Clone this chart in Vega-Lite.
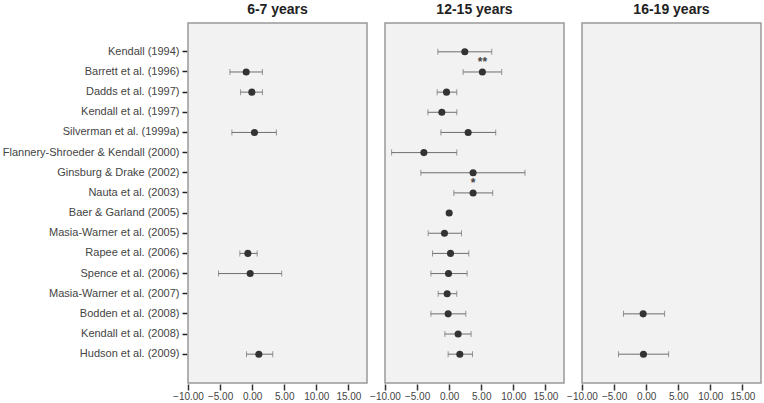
{
  "$schema": "https://vega.github.io/schema/vega-lite/v6.json",
  "background": "white",
  "padding": {"left": 2, "top": 3, "right": 4, "bottom": 2},
  "data": {"values": [
    {"study": "Barrett et al. (1996)", "age": "6-7 years", "est": -0.93, "lo": -3.47, "hi": 1.6, "sig": null},
    {"study": "Dadds et al. (1997)", "age": "6-7 years", "est": -0.05, "lo": -1.8, "hi": 1.6, "sig": null},
    {"study": "Silverman et al. (1999a)", "age": "6-7 years", "est": 0.36, "lo": -3.16, "hi": 3.78, "sig": null},
    {"study": "Rapee et al. (2006)", "age": "6-7 years", "est": -0.67, "lo": -1.92, "hi": 0.78, "sig": null},
    {"study": "Spence et al. (2006)", "age": "6-7 years", "est": -0.31, "lo": -5.24, "hi": 4.61, "sig": null},
    {"study": "Hudson et al. (2009)", "age": "6-7 years", "est": 1.04, "lo": -0.88, "hi": 3.21, "sig": null},
    {"study": "Kendall (1994)", "age": "12-15 years", "est": 2.44, "lo": -1.76, "hi": 6.64, "sig": null},
    {"study": "Barrett et al. (1996)", "age": "12-15 years", "est": 5.18, "lo": 2.18, "hi": 8.19, "sig": "**"},
    {"study": "Dadds et al. (1997)", "age": "12-15 years", "est": -0.41, "lo": -1.87, "hi": 1.19, "sig": null},
    {"study": "Kendall et al. (1997)", "age": "12-15 years", "est": -1.14, "lo": -3.32, "hi": 1.19, "sig": null},
    {"study": "Silverman et al. (1999a)", "age": "12-15 years", "est": 2.96, "lo": -1.29, "hi": 7.26, "sig": null},
    {"study": "Flannery-Shroeder & Kendall (2000)", "age": "12-15 years", "est": -3.94, "lo": -8.97, "hi": 1.19, "sig": null},
    {"study": "Ginsburg & Drake (2002)", "age": "12-15 years", "est": 3.73, "lo": -4.41, "hi": 11.82, "sig": null},
    {"study": "Nauta et al. (2003)", "age": "12-15 years", "est": 3.73, "lo": 0.73, "hi": 6.79, "sig": "*"},
    {"study": "Baer & Garland (2005)", "age": "12-15 years", "est": 0.0, "lo": null, "hi": null, "sig": null},
    {"study": "Masia-Warner et al. (2005)", "age": "12-15 years", "est": -0.73, "lo": -3.27, "hi": 1.92, "sig": null},
    {"study": "Rapee et al. (2006)", "age": "12-15 years", "est": 0.21, "lo": -2.59, "hi": 3.06, "sig": null},
    {"study": "Spence et al. (2006)", "age": "12-15 years", "est": -0.1, "lo": -2.85, "hi": 2.8, "sig": null},
    {"study": "Masia-Warner et al. (2007)", "age": "12-15 years", "est": -0.31, "lo": -1.71, "hi": 1.19, "sig": null},
    {"study": "Bodden et al. (2008)", "age": "12-15 years", "est": -0.16, "lo": -2.85, "hi": 2.59, "sig": null},
    {"study": "Kendall et al. (2008)", "age": "12-15 years", "est": 1.4, "lo": -0.67, "hi": 3.42, "sig": null},
    {"study": "Hudson et al. (2009)", "age": "12-15 years", "est": 1.66, "lo": -0.16, "hi": 3.63, "sig": null},
    {"study": "Bodden et al. (2008)", "age": "16-19 years", "est": -0.47, "lo": -3.53, "hi": 2.87, "sig": null},
    {"study": "Hudson et al. (2009)", "age": "16-19 years", "est": -0.42, "lo": -4.31, "hi": 3.5, "sig": null}
  ]},
  "facet": {
    "column": {
      "field": "age", "type": "nominal",
      "sort": ["6-7 years", "12-15 years", "16-19 years"],
      "header": {"title": null, "labelFont": "Liberation Sans", "labelFontSize": 14, "labelFontWeight": "bold", "labelColor": "#222", "labelPadding": 5}
    }
  },
  "spacing": 16,
  "spec": {
    "width": 179,
    "height": 360,
    "encoding": {
      "y": {
        "field": "study", "type": "nominal", "title": null, "sort": null,
        "scale": {"type": "band", "paddingInner": 0, "paddingOuter": 0.93, "domain": [
          "Kendall (1994)", "Barrett et al. (1996)", "Dadds et al. (1997)", "Kendall et al. (1997)",
          "Silverman et al. (1999a)", "Flannery-Shroeder & Kendall (2000)", "Ginsburg & Drake (2002)",
          "Nauta et al. (2003)", "Baer & Garland (2005)", "Masia-Warner et al. (2005)", "Rapee et al. (2006)",
          "Spence et al. (2006)", "Masia-Warner et al. (2007)", "Bodden et al. (2008)", "Kendall et al. (2008)",
          "Hudson et al. (2009)"
        ]},
        "axis": {"tickSize": 5, "tickColor": "#222", "tickWidth": 1.5, "labelPadding": 3, "bandPosition": 0.5}
      },
      "x": {
        "field": "est", "type": "quantitative", "title": null,
        "scale": {"domain": [-10, 17.9], "nice": false, "zero": false},
        "axis": {"values": [-10, -5, 0, 5, 10, 15], "format": ".2f", "tickSize": 6, "tickColor": "#333", "tickWidth": 1.5, "labelPadding": 1, "labelFontSize": 10, "labelOverlap": false, "labelBound": false, "labelFlush": false}
      }
    },
    "layer": [
      {
        "transform": [{"filter": "datum.lo != null"}],
        "mark": {"type": "rule", "color": "#6e6e6e", "strokeWidth": 1},
        "encoding": {"x": {"field": "lo", "type": "quantitative"}, "x2": {"field": "hi"}}
      },
      {
        "transform": [{"filter": "datum.lo != null"}],
        "mark": {"type": "tick", "color": "#6e6e6e", "orient": "vertical", "size": 6, "thickness": 1},
        "encoding": {"x": {"field": "lo", "type": "quantitative"}}
      },
      {
        "transform": [{"filter": "datum.hi != null"}],
        "mark": {"type": "tick", "color": "#6e6e6e", "orient": "vertical", "size": 6, "thickness": 1},
        "encoding": {"x": {"field": "hi", "type": "quantitative"}}
      },
      {
        "transform": [{"aggregate": [{"op": "count", "as": "n"}], "groupby": ["age"]}],
        "mark": {"type": "rule", "color": "#222", "strokeWidth": 1.5},
        "encoding": {"x": {"datum": 0, "type": "quantitative"}, "y": null}
      },
      {
        "mark": {"type": "point", "filled": true, "color": "#333", "size": 50, "opacity": 1},
        "encoding": {}
      },
      {
        "transform": [{"filter": "datum.sig != null"}],
        "mark": {"type": "text", "dy": -10, "font": "Liberation Sans", "fontSize": 12, "fontWeight": "bold", "color": "#444"},
        "encoding": {"text": {"field": "sig"}}
      }
    ]
  },
  "config": {
    "view": {"fill": "#f2f2f2", "stroke": "#999999", "strokeWidth": 1.5},
    "axis": {"grid": false, "domain": false, "labelFont": "Liberation Sans", "labelFontSize": 11, "labelColor": "#444"}
  }
}
